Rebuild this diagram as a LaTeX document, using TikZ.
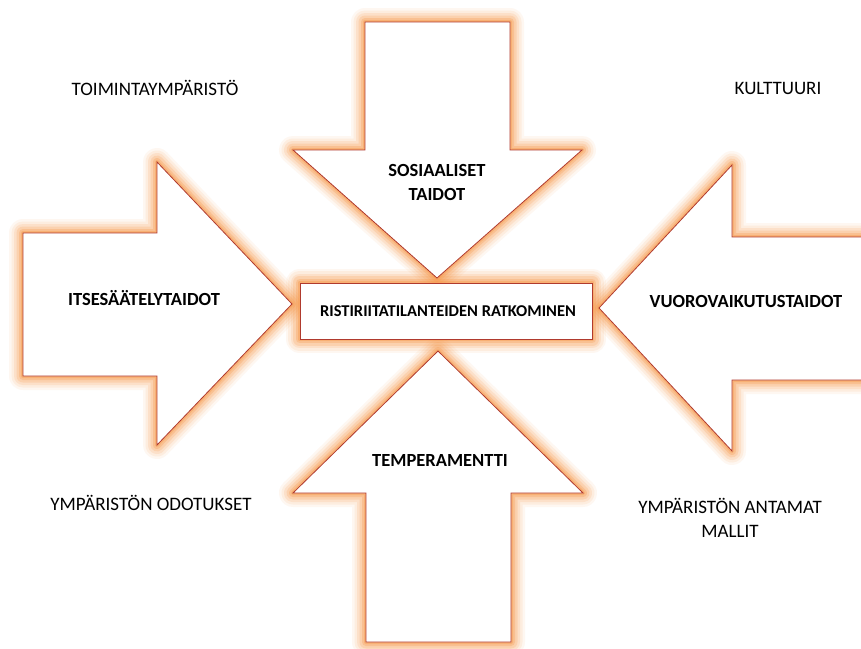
\documentclass[tikz,border=0pt]{standalone}
\usepackage{fontspec}
\setmainfont{Carlito}
\usetikzlibrary{backgrounds}
\definecolor{edgered}{RGB}{176,58,46}
\definecolor{gloworange}{RGB}{247,150,70}
\tikzstyle{bigarrow} = [draw=edgered, fill=white, line width=0.8pt, line join=miter]
\tikzstyle{glow} = [draw=gloworange, line join=round]
\tikzstyle{armlabel} = [font=\fontsize{18.5}{24}\selectfont\bfseries, align=center]
\tikzstyle{sidelabel} = [font=\fontsize{19}{24}\selectfont, align=center]
\tikzstyle{centerbox} = [draw=edgered, fill=white, line width=0.8pt, rectangle,
    minimum width=292pt, minimum height=56pt, inner sep=0pt,
    font=\fontsize{16.5}{20}\selectfont\bfseries]
\newcommand{\arrowdownpath}{(365,22) -- (510,22) -- (510,150) -- (582,150) -- (437,278) -- (293,150) -- (365,150) -- cycle}
\newcommand{\arrowuppath}{(366,642) -- (511,642) -- (511,493) -- (583,493) -- (438,351) -- (293,493) -- (366,493) -- cycle}
\newcommand{\arrowrightpath}{(23,233) -- (157,233) -- (157,162) -- (292,304) -- (157,445) -- (157,376) -- (23,376) -- cycle}
\newcommand{\arrowleftpath}{(880,237) -- (732,237) -- (732,165) -- (599,308) -- (732,451) -- (732,380) -- (880,380) -- cycle}
\begin{document}
\begin{tikzpicture}[x=1pt,y=-1pt]
    \useasboundingbox (0,0) rectangle (861,648);
    \clip (0,0) rectangle (861,648);

    % the four arrows
    \draw[bigarrow] \arrowdownpath;
    \draw[bigarrow] \arrowuppath;
    \draw[bigarrow] \arrowrightpath;
    \draw[bigarrow] \arrowleftpath;

    % centre box
    \node[centerbox] (ratk) at (446,311) {\hspace*{4pt}RISTIRIITATILANTEIDEN RATKOMINEN};

    % soft orange glow round every shape
    \begin{pgfonlayer}{background}
        \fill[white] (0,0) rectangle (861,648);
        \foreach \w/\o in {28/0.07, 23/0.1, 18/0.14, 13/0.2, 8/0.28, 4/0.38} {
            \draw[glow, line width=\w pt, draw opacity=\o] \arrowdownpath;
            \draw[glow, line width=\w pt, draw opacity=\o] \arrowuppath;
            \draw[glow, line width=\w pt, draw opacity=\o] \arrowrightpath;
            \draw[glow, line width=\w pt, draw opacity=\o] \arrowleftpath;
            \draw[glow, line width=\w pt, draw opacity=\o] (ratk.north west) rectangle (ratk.south east);
        }
    \end{pgfonlayer}

    % labels in the arrows
    \node[armlabel] (sosiaaliset) at (437,182) {SOSIAALISET\\TAIDOT};
    \node[armlabel] (itsesaately) at (144,298) {ITSESÄÄTELYTAIDOT};
    \node[armlabel] (vuorovaikutus) at (746,301) {VUOROVAIKUTUSTAIDOT};
    \node[armlabel] (temperamentti) at (440,460) {TEMPERAMENTTI};

    % labels in the corners
    \node[sidelabel] (toiminta) at (155,88) {TOIMINTAYMPÄRISTÖ};
    \node[sidelabel] (kulttuuri) at (778,88) {KULTTUURI};
    \node[sidelabel] (odotukset) at (151,503) {YMPÄRISTÖN ODOTUKSET};
    \node[sidelabel] (mallit) at (730,518) {YMPÄRISTÖN ANTAMAT\\MALLIT};
\end{tikzpicture}
\end{document}
